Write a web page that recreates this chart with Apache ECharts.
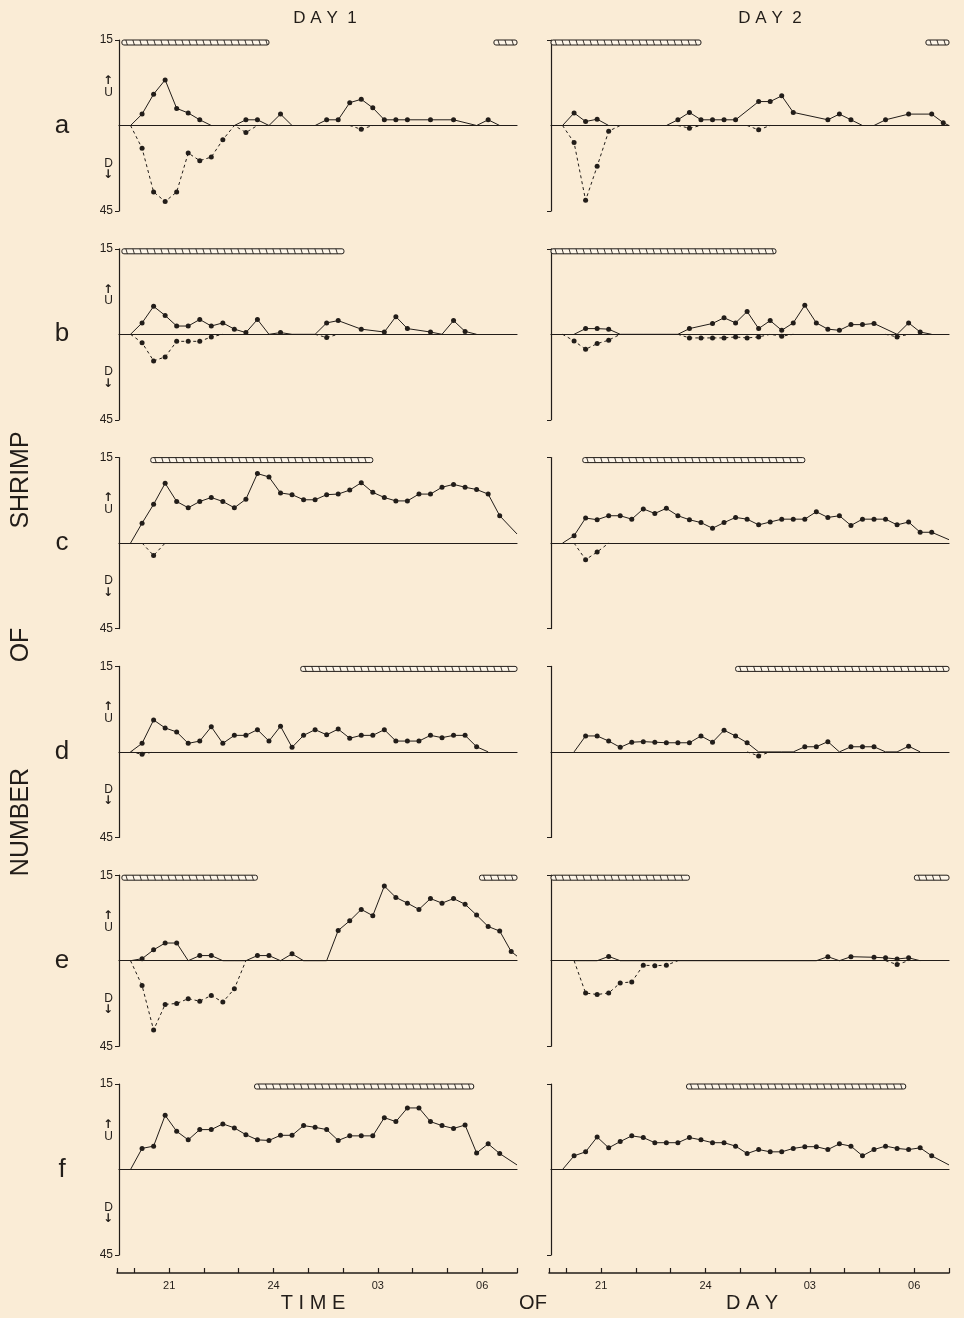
<!DOCTYPE html>
<html>
<head>
<meta charset="utf-8">
<title>Number of shrimp moving up / down</title>
<script src="https://cdn.jsdelivr.net/npm/echarts@6/dist/echarts.min.js"></script>
<style>
  html, body { margin: 0; padding: 0; background: #faecd6; }
  #chart { width: 964px; height: 1318px; }
</style>
</head>
<body>
<div id="chart"></div>
<script>
// ============================================
// data: one value every 20 min, 19:50 -> 06:50, plus the 07:00 line end
// ============================================
const _ = null;
const slotTimes = ['19:50','20:10','20:30','20:50','21:10','21:30','21:50','22:10','22:30','22:50',
                   '23:10','23:30','23:50','00:10','00:30','00:50','01:10','01:30','01:50','02:10',
                   '02:30','02:50','03:10','03:30','03:50','04:10','04:30','04:50','05:10','05:30',
                   '05:50','06:10','06:30','06:50','07:00'];
const rowNames = ['a', 'b', 'c', 'd', 'e', 'f'];
const tickHours = [19.5, 20, 21, 22, 23, 24, 25, 26, 27, 28, 29, 30, 31];
const tickLabels = { 21: '21', 24: '24', 27: '03', 30: '06' };

// U = up (scale 0-15), D = down (scale 0-45)
const upA1   = [0, 2, 5.5, 8, 3, 2.2, 1, 0, 0, 0, 1, 1, 0, 2, 0, 0, 0, 1, 1, 4, 4.6, 3.1, 1, 1, 1, _, 1, _, 1, _, 0, 1, 0];
const downA1 = [0, 12, 35, 40, 35, 14.5, 18.5, 16.6, 7.5, 0, 3.7, 0, _, _, _, _, _, _, _, 0, 2, 0];
const upA2   = [0, 2.2, 0.7, 1.1, 0, 0, 0, 0, 0, 0, 1, 2.3, 1, 1, 1, 1, _, 4.2, 4.2, 5.2, 2.3, _, _, 1, 2, 1, 0, 0, 1, _, 2, _, 2, 0.5, 0];
const downA2 = [0, 9, 39.4, 21.5, 3, 0, _, _, _, _, 0, 1.4, 0, _, _, _, 0, 2.3, 0];

const upB1   = [0, 2, 4.9, 3.3, 1.45, 1.45, 2.6, 1.45, 2, 0.9, 0.3, 2.6, 0, 0.3, 0, 0, 0, 2, 2.4, _, 0.9, _, 0.4, 3.1, 1, _, 0.4, 0, 2.4, 0.5, 0];
const downB1 = [0, 4.4, 14, 11.9, 3.7, 3.7, 3.7, 1.4, 0, _, _, _, _, _, _, _, 0, 1.7, 0];
const upB2   = [_, 0, 1, 1, 0.9, 0, 0, 0, 0, 0, 0, 1, _, 1.9, 2.9, 2, 4, 1, 2.4, 0.7, 2, 5.1, 2, 0.9, 0.7, 1.7, 1.7, 1.9, _, 0, 2, 0.4, 0];
const downB2 = [0, 3.5, 7.9, 4.9, 3.1, 0, _, _, _, _, 0, 1.9, 1.9, 1.9, 1.9, 1.4, 1.9, 1.4, 0, 1, 0, _, _, _, _, _, _, _, 0, 1.4, 0];

const upC1   = [0, 3.5, 6.8, 10.5, 7.3, 6.2, 7.3, 8.0, 7.3, 6.2, 7.7, 12.2, 11.6, 8.8, 8.5, 7.6, 7.6, 8.5, 8.6, 9.3,
                10.6, 8.9, 8.0, 7.4, 7.4, 8.6, 8.6, 9.8, 10.3, 9.8, 9.4, 8.6, 4.8, _, 1.6];
const downC1 = [_, 0, 6.5, 0];
const upC2   = [0, 1.3, 4.4, 4.1, 4.8, 4.8, 4.2, 6.0, 5.2, 6.1, 4.8, 4.1, 3.6, 2.6, 3.6, 4.5, 4.2, 3.2, 3.7, 4.2,
                4.2, 4.2, 5.5, 4.5, 4.8, 3.1, 4.2, 4.2, 4.2, 3.2, 3.7, 1.9, 1.9, _, 0.6];
const downC2 = [_, 0, 8.7, 4.7, 0];

const upD1   = [0, 1.5, 5.6, 4.2, 3.5, 1.5, 1.9, 4.4, 1.5, 2.9, 2.9, 3.9, 1.9, 4.5, 0.8, 2.9, 3.9, 3.0, 4.0, 2.4,
                2.9, 2.9, 3.9, 1.9, 1.9, 1.9, 2.9, 2.5, 2.9, 2.9, 0.9, 0];
const downD1 = [0, 1.2, 0];
const upD2   = [_, 0, 2.8, 2.8, 1.9, 0.8, 1.7, 1.8, 1.7, 1.6, 1.6, 1.6, 2.8, 1.7, 3.8, 2.8, 1.6, 0, 0, 0,
                0, 0.9, 0.9, 1.8, 0, 0.9, 0.9, 0.9, 0, 0, 1.0, 0];
const downD2 = [_, _, _, _, _, _, _, _, _, _, _, _, _, _, _, _, 0, 2.1, 0];

const upE1   = [0, 0.35, 1.9, 3.1, 3.1, 0, 0.9, 0.9, 0, 0, 0, 0.9, 0.9, 0, 1.2, 0, 0, 0, 5.3, 7.0,
                9.0, 7.9, 13.1, 11.1, 10.1, 9.0, 10.9, 10.1, 10.9, 9.9, 8.0, 6.0, 5.2, 1.6, 0.8];
const downE1 = [0, 13.1, 36.5, 23, 22.5, 20, 21.3, 18.3, 21.8, 14.8, 0];
const upE2   = [_, 0, 0, 0, 0.75, 0, 0, 0, _, _, _, _, _, _, _, _, _, _, _, _, _, _, 0, 0.7, 0, 0.7, _, 0.6, 0.5, 0.3, 0.5, 0];
const downE2 = [_, 0, 17, 17.8, 17, 11.7, 11.2, 2.4, 2.6, 2.4, 0, _, _, _, _, _, _, _, _, _, _, _, _, _, _, _, _, _, 0, 2, 0];

const upF1   = [0, 3.7, 4.1, 9.5, 6.7, 5.2, 7.0, 7.0, 8.0, 7.3, 6.1, 5.2, 5.1, 6.0, 6.0, 7.7, 7.4, 7.0, 5.1, 5.9,
                5.9, 5.9, 9.1, 8.4, 10.8, 10.8, 8.4, 7.7, 7.2, 7.8, 2.9, 4.5, 2.8, _, 0.8];
const downF1 = [];
const upF2   = [0, 2.4, 3.1, 5.7, 3.8, 4.9, 5.9, 5.6, 4.7, 4.7, 4.7, 5.6, 5.2, 4.7, 4.7, 4.1, 2.8, 3.5, 3.1, 3.1,
                3.7, 4.0, 4.0, 3.5, 4.5, 4.1, 2.4, 3.5, 4.1, 3.7, 3.5, 3.8, 2.4, _, 0.8];
const downF2 = [];

// hatched bars along the top of each panel (start, end)
const barsA1 = [['19:35', '23:50'], ['06:20', '07:00']];
const barsA2 = [['19:30', '23:50'], ['06:20', '07:00']];
const barsB1 = [['19:35', '02:00']];
const barsB2 = [['19:30', '02:00']];
const barsC1 = [['20:25', '02:50']];
const barsC2 = [['20:25', '02:50']];
const barsD1 = [['00:45', '07:00']];
const barsD2 = [['00:50', '07:00']];
const barsE1 = [['19:35', '23:30'], ['05:55', '07:00']];
const barsE2 = [['19:30', '23:30'], ['06:00', '07:00']];
const barsF1 = [['23:25', '05:45']];
const barsF2 = [['23:25', '05:45']];

const panels = [
    { up: upA1, down: downA1, bars: barsA1 }, { up: upA2, down: downA2, bars: barsA2 },
    { up: upB1, down: downB1, bars: barsB1 }, { up: upB2, down: downB2, bars: barsB2 },
    { up: upC1, down: downC1, bars: barsC1 }, { up: upC2, down: downC2, bars: barsC2 },
    { up: upD1, down: downD1, bars: barsD1 }, { up: upD2, down: downD2, bars: barsD2 },
    { up: upE1, down: downE1, bars: barsE1 }, { up: upE2, down: downE2, bars: barsE2 },
    { up: upF1, down: downF1, bars: barsF1 }, { up: upF2, down: downF2, bars: barsF2 }
];

// ============================================
// layout / style
// ============================================
const INK = '#221d19';
const BG = '#faecd6';
const FONT = '"Liberation Sans", "DejaVu Sans", sans-serif';
const PANEL_TOP = 40, PANEL_STEP = 208.8, PANEL_H = 171;
const COL_LEFT = [119, 551], PANEL_W = 398;

function toHour(s) {
    const [h, m] = s.split(':').map(Number);
    let v = h + m / 60;
    if (v < 12) v += 24;
    return v;
}
const hours = slotTimes.map(toHour);

const grid = [], xAxis = [], yAxis = [], series = [], graphic = [];

const sideRich = {
    n: { fontSize: 12, fontFamily: FONT, color: INK },
    arr: { fontSize: 12, fontFamily: '"DejaVu Sans", sans-serif', fontWeight: 'bold', color: INK, lineHeight: 11 },
    ch: { fontSize: 12, fontFamily: FONT, color: INK, lineHeight: 12 }
};

panels.forEach((p, g) => {
    const row = Math.floor(g / 2), col = g % 2;
    const top = PANEL_TOP + row * PANEL_STEP;
    grid.push({ left: COL_LEFT[col], top: top, width: PANEL_W, height: PANEL_H });

    xAxis.push({
        gridIndex: g, type: 'value', min: 19.5, max: 31,
        axisLine: { show: true, onZero: true, lineStyle: { color: INK, width: 1.2 } },
        axisTick: { show: false }, axisLabel: { show: false }, splitLine: { show: false }
    });

    // up scale 0..15 above the line
    yAxis.push({
        gridIndex: g, type: 'value', min: -15, max: 15, position: 'left',
        axisLine: { show: true, onZero: false, lineStyle: { color: INK, width: 1.2 } },
        axisTick: { show: true, customValues: [15, -15], length: 4, lineStyle: { color: INK } },
        axisLabel: {
            show: col === 0, customValues: [15, 6.8], margin: 6, hideOverlap: false,
            rich: sideRich,
            formatter: v => v === 15 ? '{n|15}' : '{arr|↑}\n{ch|U}'
        },
        splitLine: { show: false }
    });
    // down scale 0..45 below the line
    yAxis.push({
        gridIndex: g, type: 'value', min: -45, max: 45, inverse: true, position: 'left',
        axisLine: { show: false }, axisTick: { show: false },
        axisLabel: {
            show: col === 0, customValues: [22.8, 45], margin: 6, hideOverlap: false,
            rich: sideRich,
            formatter: v => v === 45 ? '{n|45}' : '{ch|D}\n{arr|↓}'
        },
        splitLine: { show: false }
    });

    const dotSize = val => (val[1] === 0 || val[0] >= 31) ? 0 : 5;

    series.push({
        type: 'line', xAxisIndex: g, yAxisIndex: 2 * g,
        data: p.up.map((v, i) => [hours[i], v]).filter(d => d[1] !== null && d[1] !== undefined),
        symbol: 'circle', symbolSize: dotSize, showSymbol: true,
        itemStyle: { color: INK }, lineStyle: { color: INK, width: 1 },
        z: 5
    });
    series.push({
        type: 'line', xAxisIndex: g, yAxisIndex: 2 * g + 1,
        data: hours.map((h, i) => [h, (p.down[i] === null || p.down[i] === undefined) ? '-' : p.down[i]]),
        connectNulls: false,
        symbol: 'circle', symbolSize: dotSize, showSymbol: true,
        itemStyle: { color: INK }, lineStyle: { color: INK, width: 1, type: [3, 3] },
        z: 5
    });
    series.push({
        type: 'custom', xAxisIndex: g, yAxisIndex: 2 * g, clip: false,
        data: p.bars.map(b => [toHour(b[0]), toHour(b[1])]),
        encode: { x: [0, 1] },
        renderItem: (params, api) => {
            const a = api.coord([api.value(0), 15]);
            const b = api.coord([api.value(1), 15]);
            const h = 5;
            const children = [{
                type: 'rect',
                shape: { x: a[0], y: a[1], width: b[0] - a[0], height: h, r: 2 },
                style: { fill: '#fdf5e8', stroke: INK, lineWidth: 1 }
            }];
            for (let x = a[0] + 4; x < b[0] - 3; x += 7) {
                children.push({
                    type: 'line',
                    shape: { x1: x, y1: a[1], x2: x + 1.5, y2: a[1] + h },
                    style: { stroke: INK, lineWidth: 0.9 }
                });
            }
            return { type: 'group', children: children };
        }
    });

    if (col === 0) {
        graphic.push({
            type: 'text', x: 62, y: top + PANEL_H / 2,
            style: { text: rowNames[row], font: '26px ' + FONT, fill: INK, align: 'center', verticalAlign: 'middle' }
        });
    }
});

// time axes along the bottom
[0, 1].forEach(col => {
    const g = grid.length;
    grid.push({ left: COL_LEFT[col] - 2, top: 1272, width: PANEL_W + 2, height: 1 });
    xAxis.push({
        gridIndex: g, type: 'value', min: 19.5, max: 31, position: 'bottom',
        axisLine: { show: true, onZero: false, lineStyle: { color: INK, width: 1.6 } },
        axisTick: { show: true, inside: true, length: 5, customValues: tickHours, lineStyle: { color: INK, width: 1.2 } },
        axisLabel: {
            customValues: [21, 24, 27, 30], margin: 7, color: INK, fontFamily: FONT, fontSize: 11,
            formatter: v => tickLabels[v] || ''
        },
        splitLine: { show: false }
    });
    yAxis.push({ gridIndex: g, type: 'value', show: false });
});

// titles
const titleFont = '17px ' + FONT;
graphic.push(
    { type: 'text', x: 325, y: 18, style: { text: 'D A Y  1', font: titleFont, fill: INK, align: 'center', verticalAlign: 'middle' } },
    { type: 'text', x: 770, y: 18, style: { text: 'D A Y  2', font: titleFont, fill: INK, align: 'center', verticalAlign: 'middle' } },
    { type: 'text', x: 313, y: 1303, style: { text: 'T I M E', font: '20px ' + FONT, fill: INK, align: 'center', verticalAlign: 'middle' } },
    { type: 'text', x: 533, y: 1303, style: { text: 'OF', font: '20px ' + FONT, fill: INK, align: 'center', verticalAlign: 'middle' } },
    { type: 'text', x: 752, y: 1303, style: { text: 'D A Y', font: '20px ' + FONT, fill: INK, align: 'center', verticalAlign: 'middle' } },
    { type: 'text', x: 21, y: 480, rotation: Math.PI / 2, style: { text: 'SHRIMP', font: '25px ' + FONT, fill: INK, align: 'center', verticalAlign: 'middle' } },
    { type: 'text', x: 21, y: 645, rotation: Math.PI / 2, style: { text: 'OF', font: '25px ' + FONT, fill: INK, align: 'center', verticalAlign: 'middle' } },
    { type: 'text', x: 21, y: 822, rotation: Math.PI / 2, style: { text: 'NUMBER', font: '25px ' + FONT, fill: INK, align: 'center', verticalAlign: 'middle' } }
);

const chart = echarts.init(document.getElementById('chart'), null, { renderer: 'canvas' });
chart.setOption({
    backgroundColor: BG,
    animation: false,
    grid: grid,
    xAxis: xAxis,
    yAxis: yAxis,
    series: series,
    graphic: graphic
});
</script>
</body>
</html>
